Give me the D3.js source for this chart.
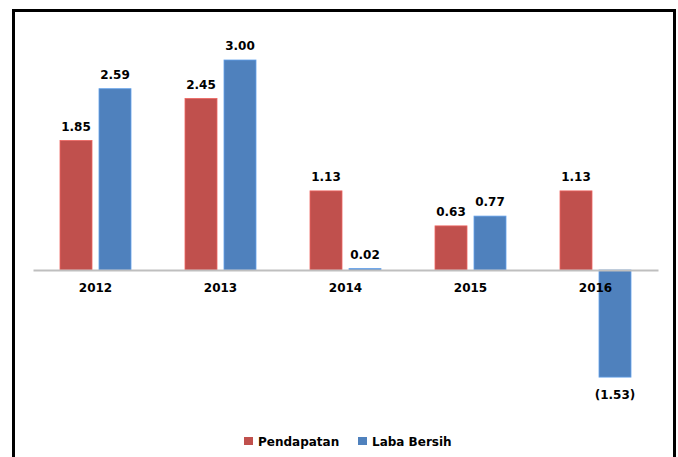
<!DOCTYPE html>
<html>
<head>
<meta charset="utf-8">
<script src="https://cdn.jsdelivr.net/npm/d3@7"></script>
<style>
  body { margin: 0; background: #fff; }
  text { font-family: "DejaVu Sans", Verdana, sans-serif; font-weight: bold; }
</style>
</head>
<body>
<svg width="678" height="457"></svg>
<script>
var years = ['2012', '2013', '2014', '2015', '2016'];
var seriesNames = ['Pendapatan', 'Laba Bersih'];
var pendapatan = [1.85, 2.45, 1.13, 0.63, 1.13];
var labaBersih = [2.59, 3.00, 0.02, 0.77, -1.53];
var colors = ['#C0504D', '#4F81BD'];

var svg = d3.select('svg');

// outer frame
svg.append('rect')
    .attr('x', 13.5).attr('y', 10.5)
    .attr('width', 661).attr('height', 460)
    .attr('fill', 'none')
    .attr('stroke', '#000')
    .attr('stroke-width', 3);

// scales
var x0 = d3.scaleBand()
    .domain(years)
    .range([33, 658]);

var x1 = d3.scaleBand()
    .domain(seriesNames)
    .range([27, 98])
    .paddingInner(7 / 39);

var y = d3.scaleLinear()
    .domain([0, 3])
    .range([270, 60]);

var rows = years.map(function (yr, i) {
    return { year: yr, values: [
        { name: seriesNames[0], v: pendapatan[i], c: colors[0] },
        { name: seriesNames[1], v: labaBersih[i], c: colors[1] }
    ]};
});

var g = svg.selectAll('g.grp')
    .data(rows)
    .enter().append('g')
    .attr('class', 'grp')
    .attr('transform', function (d) { return 'translate(' + x0(d.year) + ',0)'; });

var bar = g.selectAll('g.bar')
    .data(function (d) { return d.values; })
    .enter().append('g')
    .attr('class', 'bar');

bar.append('rect')
    .attr('x', function (d) { return x1(d.name); })
    .attr('y', function (d) { return Math.min(y(d.v), y(0)); })
    .attr('width', x1.bandwidth())
    .attr('height', function (d) { return Math.abs(y(d.v) - y(0)); })
    .attr('fill', function (d) { return d.c; })
    .attr('stroke', function (d) { return d3.color(d.c).brighter(0.6); })
    .attr('stroke-width', 0.8);

bar.append('text')
    .attr('x', function (d) { return x1(d.name) + x1.bandwidth() / 2; })
    .attr('y', function (d) { return d.v >= 0 ? y(d.v) - 10 : y(d.v) + 22; })
    .attr('text-anchor', 'middle')
    .style('font-size', '12px')
    .attr('fill', '#000')
    .text(function (d) {
        return d.v < 0 ? '(' + d3.format('.2f')(-d.v) + ')' : d3.format('.2f')(d.v);
    });

// category axis
var axis = svg.append('g')
    .attr('transform', 'translate(0,' + y(0) + ')')
    .call(d3.axisBottom(x0).tickSize(0).tickSizeOuter(0).tickPadding(13));

axis.select('.domain')
    .attr('stroke', '#bfbfbf')
    .attr('stroke-width', 2);

axis.selectAll('text')
    .style('font-size', '12px')
    .style('font-family', '"DejaVu Sans", Verdana, sans-serif')
    .style('font-weight', 'bold')
    .attr('fill', '#000');

// legend
var legend = svg.append('g')
    .attr('transform', 'translate(244,437)');

var li = legend.selectAll('g')
    .data(seriesNames)
    .enter().append('g')
    .attr('transform', function (d, i) { return 'translate(' + (i * 114) + ',0)'; });

li.append('rect')
    .attr('width', 9).attr('height', 8)
    .attr('fill', function (d, i) { return colors[i]; });

li.append('text')
    .attr('x', 14).attr('y', 8.5)
    .style('font-size', '12px')
    .text(function (d) { return d; });
</script>
</body>
</html>
